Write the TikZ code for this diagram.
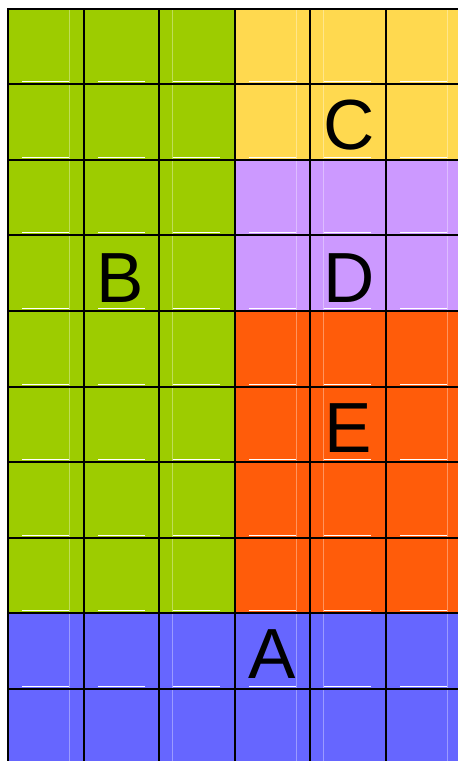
\documentclass[tikz,border=0pt]{standalone}
\usepackage{fontspec}
\setmainfont{Liberation Sans}
\definecolor{cgreen}{RGB}{157,204,0}
\definecolor{cyellow}{RGB}{255,217,79}
\definecolor{cpurple}{RGB}{204,153,255}
\definecolor{corange}{RGB}{255,92,10}
\definecolor{cblue}{RGB}{102,102,255}
\tikzset{
  gridline/.style={black,line width=2pt},
  faint/.style={white,opacity=0.35,line width=1pt},
  tick/.style={white,line width=1.2pt},
  letter/.style={inner sep=0pt,font=\fontsize{71}{71}\selectfont}
}
\begin{document}
\begin{tikzpicture}[x=1pt,y=-1pt]
\useasboundingbox (0,0) rectangle (458,761);
\fill[white] (0,0) rectangle (458,761);
% regions
\fill[cgreen]  (8,9) rectangle (235,613);
\fill[cyellow] (235,9) rectangle (458,160);
\fill[cpurple] (235,160) rectangle (458,311);
\fill[corange] (235,311) rectangle (458,613);
\fill[cblue]   (8,613) rectangle (458,761);
% faint vertical lines
\foreach \x in {69.5,172.5,296.5,323.5,447.5}
  \draw[faint] (\x,9) -- (\x,761);
% white short lines at cell bottoms
\foreach \xl in {8,84,159,235,310,386}
  \foreach \yb in {84,160,235,311,387,462,538,613,689}
    \draw[tick] ({\xl+14},{\yb-2.4}) -- ({\xl+61},{\yb-2.4});
% grid
\foreach \x in {8,84,159,235,310,386}
  \draw[gridline] (\x,8) -- (\x,761);
\foreach \y in {9,84,160,235,311,387,462,538,613,689}
  \draw[gridline] (7,\y) -- (458,\y);
% labels
\node[letter] (B) at (120,278) {B};
\node[letter] (C) at (349,125) {C};
\node[letter] (D) at (349,278) {D};
\node[letter] (E) at (348,428) {E};
\node[letter] (A) at (272.5,654) {A};
\end{tikzpicture}
\end{document}
